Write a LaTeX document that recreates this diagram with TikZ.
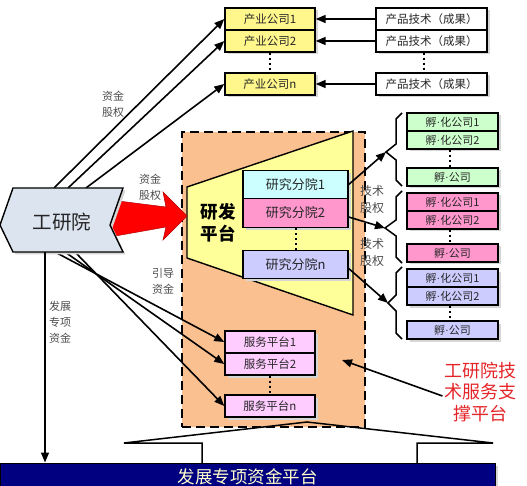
\documentclass[tikz,border=0pt]{standalone}
\usepackage{fontspec}
\setmainfont{Noto Sans CJK SC}
\newfontfamily\latinf{Liberation Serif}
\usetikzlibrary{arrows.meta,shadows}
\definecolor{cInd}{RGB}{255,246,140}
\definecolor{cOr}{RGB}{250,192,143}
\definecolor{cTrap}{RGB}{255,255,153}
\definecolor{cCyan}{RGB}{204,255,255}
\definecolor{cPink}{RGB}{255,150,204}
\definecolor{cLav}{RGB}{204,204,255}
\definecolor{cGreen}{RGB}{204,255,204}
\definecolor{cSvc}{RGB}{255,204,255}
\definecolor{cGy}{RGB}{220,228,240}
\definecolor{cNavy}{RGB}{0,0,128}
\definecolor{cBarText}{RGB}{255,255,204}
\definecolor{cRed}{RGB}{228,36,40}
\newcommand{\mdot}{{\latinf ·}}
\begin{document}
\begin{tikzpicture}[x=1pt,y=-1pt,
  sh/.style={drop shadow={shadow xshift=2.5pt,shadow yshift=-2.5pt,fill=black!16,opacity=1}},
  bx/.style={draw=black,line width=1.4pt,inner sep=0pt,text=black!85,sh},
  ind/.style={bx,fill=cInd,minimum width=90pt,minimum height=22pt,font=\fontsize{11.5}{11.5}\selectfont},
  prod/.style={bx,fill=white,minimum width=111pt,minimum height=22pt,font=\fontsize{11.5}{11.5}\selectfont},
  res/.style={bx,minimum width=105pt,minimum height=28.5pt,font=\fontsize{13}{13}\selectfont},
  inc/.style={bx,minimum width=91pt,minimum height=18pt,font=\fontsize{11}{11}\selectfont},
  svc/.style={bx,fill=cSvc,minimum width=90pt,minimum height=22pt,font=\fontsize{11.5}{11.5}\selectfont},
  arr/.style={-{Triangle[length=10pt,width=8pt]},line width=1.6pt},
  dots/.style={line width=2pt,dash pattern=on 2.5pt off 2.5pt},
  lbl/.style={text=black!70,align=center,inner sep=0pt,font=\fontsize{11}{16}\selectfont},
  bracepath/.style={line width=1.5pt,line join=miter}
]
\useasboundingbox (0,0) rectangle (527,486);

% industry companies and product techs
\node[ind] (i1) at (270,19) {产业公司1};
\node[ind] (i2) at (270,41) {产业公司2};
\node[ind] (in) at (270,84) {产业公司n};
\node[prod] (p1) at (431.5,19) {产品技术（成果）};
\node[prod] (p2) at (431.5,41) {产品技术（成果）};
\node[prod] (pn) at (431.5,84) {产品技术（成果）};
\draw[dots] (i2.south) -- (in.north);
\draw[dots] ([xshift=-8pt]p2.south) -- ([xshift=-8pt]pn.north);
\draw[arr] (p1.west) -- (i1.east);
\draw[arr] (p2.west) -- (i2.east);
\draw[arr] (pn.west) -- (in.east);

% platform area
\node[fill=cOr,draw=black,line width=2pt,dash pattern=on 9pt off 5pt,minimum width=183pt,minimum height=295pt,inner sep=0pt] (plat) at (273.5,279.5) {};
\draw[fill=cTrap,line width=1.4pt] (187,187) -- (353,131) -- (353,315) -- (187,258) -- cycle;
\coordinate (tzl) at (187,216);
\node[font=\fontsize{17.5}{22}\selectfont\bfseries,align=center] (rd) at (218,223) {研发\\平台};
\node[res,fill=cCyan] (r1) at (295.5,184.5) {研究分院1};
\node[res,fill=cPink] (r2) at (295.5,213) {研究分院2};
\node[res,fill=cLav] (rn) at (295.5,264.5) {研究分院n};
\draw[dots] (r2.south) -- (rn.north);

\node[svc] (s1) at (270,342) {服务平台1};
\node[svc] (s2) at (270,364) {服务平台2};
\node[svc] (sn) at (270,406) {服务平台n};
\draw[dots] (s2.south) -- (sn.north);

% incubator companies
\node[inc,fill=cGreen] (g1) at (452.5,122) {孵\mdot 化公司1};
\node[inc,fill=cGreen] (g2) at (452.5,140) {孵\mdot 化公司2};
\node[inc,fill=cGreen] (gn) at (452.5,177) {孵\mdot 公司};
\node[inc,fill=cPink] (k1) at (452.5,202) {孵\mdot 化公司1};
\node[inc,fill=cPink] (k2) at (452.5,220) {孵\mdot 化公司2};
\node[inc,fill=cPink] (kn) at (452.5,253) {孵\mdot 公司};
\node[inc,fill=cLav] (l1) at (452.5,278) {孵\mdot 化公司1};
\node[inc,fill=cLav] (l2) at (452.5,296) {孵\mdot 化公司2};
\node[inc,fill=cLav] (ln) at (452.5,330) {孵\mdot 公司};
\draw[dots] ([xshift=-3pt]g2.south) -- ([xshift=-3pt]gn.north);
\draw[dots] ([xshift=-3pt]k2.south) -- ([xshift=-3pt]kn.north);
\draw[dots] ([xshift=-3pt]l2.south) -- ([xshift=-3pt]ln.north);

% braces
\coordinate (bt1) at (386,152);
\coordinate (bt2) at (385,228);
\coordinate (bt3) at (388,303);
\draw[bracepath] (402,113) -- (396,119) -- (396,144) -- (bt1) -- (396,160) -- (396,180) -- (402,186);
\draw[bracepath] (402,191) -- (396,197) -- (396,220) -- (bt2) -- (396,236) -- (396,257) -- (402,263);
\draw[bracepath] (402,267) -- (396,273) -- (396,295) -- (bt3) -- (396,311) -- (396,333) -- (402,339);
\draw[arr] (r1.east) -- (bt1);
\draw[arr] ([yshift=-4pt]r2.east) -- (bt2);
\draw[arr] ([yshift=-4pt]rn.east) -- (bt3);
\node[lbl,font=\fontsize{12}{17}\selectfont] (lb4) at (372,199) {技术\\股权};
\node[lbl,font=\fontsize{12}{17}\selectfont] (lb5) at (372,252) {技术\\股权};

% red arrow
\draw[fill=red,draw=red!70!black,line width=0.5pt] (118.4,201) -- (166,207) -- (163,192) -- (tzl) -- (163,240) -- (166,227) -- (115.3,236) -- (110,225) -- cycle;

% gongyanyuan
\coordinate (t1) at (54,188);
\coordinate (t2) at (68,188);
\coordinate (t3) at (86,188);
\coordinate (b1) at (55,252);
\coordinate (b2) at (65,252);
\coordinate (b3) at (75,252);
\coordinate (bv) at (45,252);
\draw[arr] (t1) -- (i1.west);
\draw[arr] (t2) -- (i2.west);
\draw[arr] (t3) -- (in.west);
\draw[arr] (b1) -- (s1.west);
\draw[arr] (b2) -- (s2.west);
\draw[arr] (b3) -- (sn.west);
\draw[fill=cGy,line width=1.4pt,sh] (0,225) -- (13,188) -- (123,188) -- (110,225) -- (123,252) -- (13,252) -- cycle;
\node[font=\fontsize{19.5}{19.5}\selectfont,text=black!85] (gy) at (62,222) {工研院};

\node[lbl] (lb1) at (113,104) {资金\\股权};
\node[lbl] (lb2) at (150,187) {资金\\股权};
\node[lbl] (lb3) at (163,281) {引导\\资金};
\node[lbl] (lb6) at (60,322) {发展\\专项\\资金};

% red text
\node[text=cRed,align=center,font=\fontsize{18}{21.5}\selectfont] (rt) at (480,392) {工研院技\\术服务支\\撑平台};
\coordinate (rtgt) at (342,360);
\draw[arr] ([xshift=2pt,yshift=-4pt]rt.west) -- (rtgt);

% bottom bar and callout
\node[draw=black,line width=1pt,fill=cNavy,minimum width=495pt,minimum height=28pt,inner sep=0pt,text=cBarText,font=\fontsize{17.5}{17.5}\selectfont,sh] (bar) at (247.5,477) {发展专项资金平台};
\draw[line width=1.5pt,line join=miter] (202,463) -- (202,443) -- (124,443) -- (307,422) -- (493,443) -- (417,443) -- (417,463);
\draw[arr] (bv) -- (bv |- bar.north);
\end{tikzpicture}
\end{document}
